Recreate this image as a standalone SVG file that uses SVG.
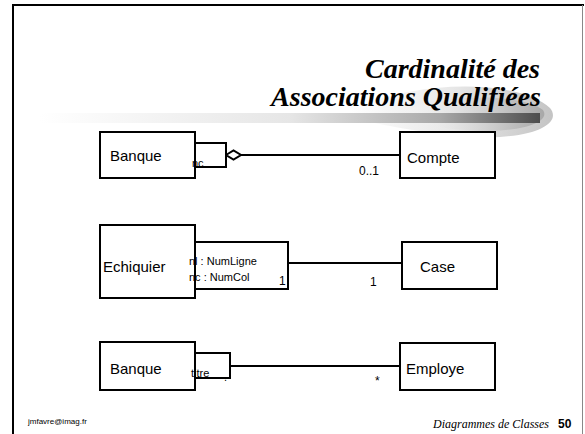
<svg xmlns="http://www.w3.org/2000/svg" width="585" height="434" viewBox="0 0 585 434">
<defs>
<linearGradient id="bar" x1="0" y1="0" x2="1" y2="0">
<stop offset="0" stop-color="#ffffff"/>
<stop offset="0.5" stop-color="#e6e6e6"/>
<stop offset="0.8" stop-color="#a8a8a8"/>
<stop offset="1" stop-color="#4d4d4d"/>
</linearGradient>
<linearGradient id="swoosh" x1="0" y1="0" x2="1" y2="0">
<stop offset="0" stop-color="#ffffff"/>
<stop offset="0.5" stop-color="#e8e8e8"/>
<stop offset="1" stop-color="#c4c4c4"/>
</linearGradient>
<linearGradient id="swoosh2" x1="0" y1="0" x2="1" y2="0">
<stop offset="0" stop-color="#ffffff" stop-opacity="0"/>
<stop offset="0.6" stop-color="#d0d0d0"/>
<stop offset="1" stop-color="#a8a8a8"/>
</linearGradient>
</defs>
<style>
.box{fill:#fff;stroke:#000;stroke-width:2}
.qf{fill:#fff;stroke:none}
.qs{fill:none;stroke:#000;stroke-width:2}
.lbl{font-family:"Liberation Sans",Arial,sans-serif;font-size:15px;fill:#000}
.sm{font-family:"Liberation Sans",Arial,sans-serif;font-size:11px;fill:#000}
.card{font-family:"Liberation Sans",Arial,sans-serif;font-size:12px;fill:#000}
.conn{stroke:#000;stroke-width:2;fill:none}
</style>
<rect x="0" y="0" width="585" height="434" fill="#fff"/>
<g id="frame">
<line x1="13" y1="5" x2="584" y2="5" stroke="#000" stroke-width="2"/>
<line x1="13" y1="4" x2="13" y2="434" stroke="#000" stroke-width="2"/>
<line x1="582.5" y1="5" x2="582.5" y2="434" stroke="#888" stroke-width="1"/>
</g>
<g id="decor">
<path d="M 350,110 C 420,78 520,80 550,108 C 560,120 545,134 500,137 C 450,139 400,128 350,118 Z" fill="url(#swoosh)"/>
<path d="M 400,112 C 450,92 520,94 543,110 C 550,120 530,130 490,131 C 450,131 420,124 400,119 Z" fill="url(#swoosh2)"/>
<rect x="40" y="113" width="500" height="10" fill="url(#bar)"/>
</g>
<g id="title" font-family="Liberation Serif, Times New Roman, serif" font-size="28" font-weight="bold" font-style="italic" fill="#000" text-anchor="end">
<text x="540" y="78">Cardinalité des</text>
<text x="541" y="106">Associations Qualifiées</text>
</g>
<g id="connectors">
<line class="conn" x1="241" y1="155" x2="400" y2="155"/>
<polygon points="226,155 233.5,150.5 241,155 233.5,159.5" fill="#fff" stroke="#000" stroke-width="2"/>
<line class="conn" x1="288" y1="263" x2="402" y2="263"/>
<line class="conn" x1="230" y1="366" x2="400" y2="366"/>
</g>
<g id="banque1">
<rect class="box" x="100" y="132" width="95" height="46"/>
<text class="lbl" x="110" y="161">Banque</text>
</g>
<g id="q1">
<rect class="qf" x="195" y="143" width="31" height="24"/>
<text class="sm" x="192" y="167">nc</text>
<rect class="qs" x="195" y="143" width="31" height="24"/>
</g>
<g id="compte">
<rect class="box" x="400" y="132" width="95" height="46"/>
<text class="lbl" x="407" y="163">Compte</text>
</g>
<text class="card" x="359" y="175">0..1</text>
<g id="echiquier">
<rect class="box" x="100" y="225" width="95" height="73"/>
<text class="lbl" x="103" y="272">Echiquier</text>
</g>
<g id="q2">
<rect class="qf" x="195" y="242" width="93" height="47"/>
<text class="sm" x="189" y="265">nl : NumLigne</text>
<text class="sm" x="189" y="281">nc : NumCol</text>
<text class="card" x="279" y="285">1</text>
<rect class="qs" x="195" y="242" width="93" height="47"/>
</g>
<g id="case">
<rect class="box" x="402" y="242" width="95" height="47"/>
<text class="lbl" x="420" y="272">Case</text>
</g>
<text class="card" x="370" y="286">1</text>
<g id="banque2">
<rect class="box" x="100" y="342" width="95" height="48"/>
<text class="lbl" x="110" y="374">Banque</text>
</g>
<g id="q3">
<rect class="qf" x="195" y="353" width="35" height="25"/>
<text class="sm" x="191" y="377">titre</text>
<text class="sm" x="224" y="381" font-size="7">.</text>
<rect class="qs" x="195" y="353" width="35" height="25"/>
</g>
<g id="employe">
<rect class="box" x="400" y="343" width="95" height="47"/>
<text class="lbl" x="406" y="374">Employe</text>
</g>
<text class="card" x="375" y="385">*</text>
<g id="footer">
<text x="28" y="424" font-family="Liberation Sans, Arial, sans-serif" font-size="8" fill="#000">jmfavre@imag.fr</text>
<text x="433" y="428" font-family="Liberation Serif, Times New Roman, serif" font-size="12" font-style="italic" fill="#000">Diagrammes de Classes</text>
<text x="558" y="428" font-family="Liberation Sans, Arial, sans-serif" font-size="12" font-weight="bold" fill="#000">50</text>
</g>
</svg>
